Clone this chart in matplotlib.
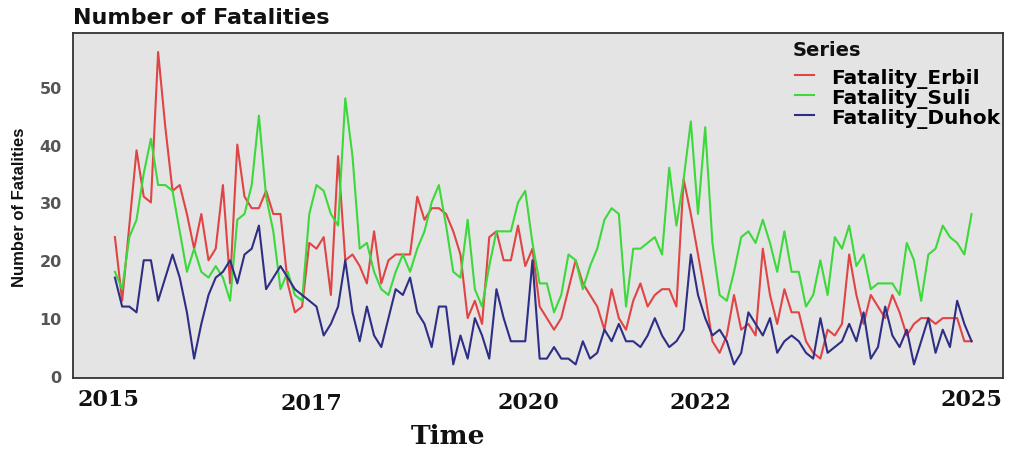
import numpy as np
import matplotlib.pyplot as plt

# monthly fatalities, Jan 2015 - Dec 2024
erbil = [24, 13, 26, 39, 31, 30, 56, 43, 32, 33, 28, 22,
         28, 20, 22, 33, 16, 40, 31, 29, 29, 32, 28, 28,
         16, 11, 12, 23, 22, 24, 14, 38, 20, 21, 19, 16,
         25, 16, 20, 21, 21, 21, 31, 27, 29, 29, 28, 25,
         21, 10, 13, 9, 24, 25, 20, 20, 26, 19, 22, 12,
         10, 8, 10, 15, 20, 16, 14, 12, 8, 15, 10, 8,
         13, 16, 12, 14, 15, 15, 12, 34, 28, 21, 14, 6,
         4, 7, 14, 8, 9, 7, 22, 14, 9, 15, 11, 11,
         6, 4, 3, 8, 7, 9, 21, 14, 9, 14, 12, 10,
         14, 11, 7, 9, 10, 10, 9, 10, 10, 10, 6, 6]

suli = [18, 15, 24, 27, 35, 41, 33, 33, 32, 25, 18, 22,
        18, 17, 19, 17, 13, 27, 28, 33, 45, 31, 25, 15,
        18, 14, 13, 28, 33, 32, 28, 26, 48, 38, 22, 23,
        18, 15, 14, 18, 21, 18, 22, 25, 30, 33, 26, 18,
        17, 27, 15, 12, 19, 25, 25, 25, 30, 32, 23, 16,
        16, 11, 14, 21, 20, 15, 19, 22, 27, 29, 28, 12,
        22, 22, 23, 24, 21, 36, 26, 34, 44, 28, 43, 23,
        14, 13, 18, 24, 25, 23, 27, 23, 18, 25, 18, 18,
        12, 14, 20, 14, 24, 22, 26, 19, 21, 15, 16, 16,
        16, 14, 23, 20, 13, 21, 22, 26, 24, 23, 21, 28]

duhok = [17, 12, 12, 11, 20, 20, 13, 17, 21, 17, 11, 3,
         9, 14, 17, 18, 20, 16, 21, 22, 26, 15, 17, 19,
         17, 15, 14, 13, 12, 7, 9, 12, 20, 11, 6, 12,
         7, 5, 10, 15, 14, 17, 11, 9, 5, 12, 12, 2,
         7, 3, 10, 7, 3, 15, 10, 6, 6, 6, 20, 3,
         3, 5, 3, 3, 2, 6, 3, 4, 8, 6, 9, 6,
         6, 5, 7, 10, 7, 5, 6, 8, 21, 14, 10, 7,
         8, 6, 2, 4, 11, 9, 7, 10, 4, 6, 7, 6,
         4, 3, 10, 4, 5, 6, 9, 6, 11, 3, 5, 12,
         7, 5, 8, 2, 6, 10, 4, 8, 5, 13, 9, 6]

series_names = ["Fatality_Erbil", "Fatality_Suli", "Fatality_Duhok"]
series_colors = ["#E04444", "#3CD83C", "#2E2E86"]

# x tick labels and where they sit (decimal years)
year_labels = ["2015", "2017", "2020", "2022", "2025"]
year_pos = [2014.93, 2017.28, 2019.79, 2021.78, 2024.92]
year_drop = [0, 4, 3, 3, 0]   # small vertical offsets of the labels, px

t = 2015 + np.arange(len(erbil)) / 12.0

fig = plt.figure(figsize=(10.09, 4.52), dpi=100)
ax = fig.add_axes([0.0723, 0.1615, 0.9217, 0.7635])
ax.set_facecolor("#E4E4E4")

for vals, name, col in zip([erbil, suli, duhok], series_names, series_colors):
    ax.plot(t, vals, color=col, lw=1.5, label=name)

ax.set_xlim(2014.514, 2025.28)
ax.set_ylim(-0.35, 59.3)

ax.set_yticks([0, 10, 20, 30, 40, 50])
ax.tick_params(axis="y", length=0, pad=8, labelsize=11.5, labelcolor="#555555")
for lab in ax.get_yticklabels():
    lab.set_fontweight("bold")
    lab.set_family("DejaVu Sans")

ax.set_xticks([])
for lab, x, dy in zip(year_labels, year_pos, year_drop):
    ax.annotate(lab, xy=(x, 0), xycoords=("data", "axes fraction"),
                xytext=(0, -21 - dy), textcoords="offset pixels",
                ha="center", va="center", fontsize=16, fontweight="bold",
                family="DejaVu Serif", color="#111111", annotation_clip=False)

for sp in ax.spines.values():
    sp.set_color("#333333")
    sp.set_linewidth(1.3)

fig.text(73 / 1009, 1 - 18 / 452, "Number of Fatalities", ha="left", va="center",
         fontsize=16, fontweight="bold", family="DejaVu Sans", color="#111111")
fig.text(20 / 1009, 1 - 207 / 452, "Number of Fatalities", rotation=90,
         ha="center", va="center", fontsize=12, fontweight="bold",
         family="Liberation Sans", color="#111111")
fig.text(448 / 1009, 1 - 437 / 452, "Time", ha="center", va="center",
         fontsize=19, fontweight="bold", family="DejaVu Serif", color="#111111")

# legend: heading drawn separately so the gap below it can be set
fig.text(793 / 1009, 1 - 51 / 452, "Series", ha="left", va="center",
         fontsize=14, fontweight="bold", family="DejaVu Sans", color="#111111")
leg = ax.legend(loc="upper left", bbox_to_anchor=(0.768, 0.923),
                frameon=False, labelspacing=0.0, handlelength=0.95,
                handletextpad=0.85, borderaxespad=0.0,
                prop={"weight": "bold", "family": "DejaVu Sans", "size": 14.5})

fig.savefig("out.png", dpi=100, facecolor="white")
